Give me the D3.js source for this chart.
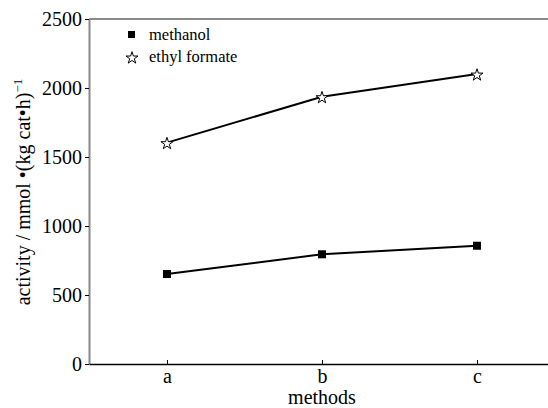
<!DOCTYPE html>
<html>
<head>
<meta charset="utf-8">
<script src="https://cdn.jsdelivr.net/npm/d3@7"></script>
<style>
  body { margin: 0; background: #fff; }
  svg text { font-family: "Liberation Serif", "Times New Roman", serif; fill: #000; }
</style>
</head>
<body>
<div id="chart"></div>
<script>
var methods = ["a", "b", "c"];
var methanol = [652, 795, 857];
var ethylFormate = [1604, 1937, 2101];
var yTicks = [0, 500, 1000, 1500, 2000, 2500];

var serif = "Liberation Serif";
var width = 548, height = 408;
var svg = d3.select("#chart").append("svg")
  .attr("width", width)
  .attr("height", height)
  .attr("font-family", serif);

var x = d3.scaleLinear().domain([-0.503, 2.458]).range([89, 548]);
var y = d3.scaleLinear().domain([0, 2500]).range([364, 19]);

// top frame line
svg.append("line")
  .attr("x1", 89).attr("x2", 548)
  .attr("y1", y(2500)).attr("y2", y(2500))
  .attr("stroke", "#666").attr("stroke-width", 1.5);

// y axis
var yAxis = svg.append("g")
  .attr("transform", "translate(89,0)")
  .call(d3.axisLeft(y).tickValues(yTicks).tickSize(4).tickPadding(3).tickSizeOuter(0).tickFormat(d3.format("d")))
  .attr("font-family", serif).attr("font-size", 20);
yAxis.select(".domain").attr("stroke", "#888").attr("stroke-width", 2);
yAxis.selectAll(".tick line").attr("stroke", "#000");
yAxis.selectAll(".tick text").style("font-family", serif);

// x axis
var xAxis = svg.append("g")
  .attr("transform", "translate(0,364)")
  .call(d3.axisTop(x).tickValues([0, 1, 2]).tickSize(4).tickSizeOuter(0).tickFormat(function (d) { return methods[d]; }))
  .attr("font-family", serif).attr("font-size", 20);
xAxis.select(".domain").attr("stroke", "#000").attr("stroke-width", 1.5);
xAxis.selectAll(".tick text")
  .attr("y", 19).attr("dy", 0)
  .style("font-family", serif);

svg.append("text")
  .attr("x", 322).attr("y", 404)
  .attr("text-anchor", "middle")
  .style("font-family", serif)
  .style("font-size", "20px")
  .text("methods");

var yl = svg.append("text")
  .attr("transform", "translate(30,192) rotate(-90)")
  .attr("text-anchor", "middle")
  .style("font-family", serif)
  .style("font-size", "20px");
yl.append("tspan").text("activity / mmol \u2022(kg cat\u2022h)");
yl.append("tspan").attr("dy", -8).style("font-size", "13px").text("\u22121");

var line = d3.line()
  .x(function (d, i) { return x(i); })
  .y(function (d) { return y(d); });

svg.append("path").datum(ethylFormate)
  .attr("d", line).attr("fill", "none")
  .attr("stroke", "#000").attr("stroke-width", 2);
svg.append("path").datum(methanol)
  .attr("d", line).attr("fill", "none")
  .attr("stroke", "#000").attr("stroke-width", 2);

var star = d3.symbol().type(d3.symbolStar).size(45);
svg.selectAll(".sq").data(methanol).enter().append("rect")
  .attr("x", function (d, i) { return x(i) - 4; })
  .attr("y", function (d) { return y(d) - 4; })
  .attr("width", 8).attr("height", 8)
  .attr("fill", "#000");
svg.selectAll(".st").data(ethylFormate).enter().append("path")
  .attr("d", star)
  .attr("transform", function (d, i) { return "translate(" + x(i) + "," + (y(d) + 1) + ")"; })
  .attr("fill", "#fff").attr("stroke", "#000").attr("stroke-width", 1);

// legend
var legend = svg.append("g");
legend.append("rect").attr("x", 128).attr("y", 31).attr("width", 7).attr("height", 7).attr("fill", "#000");
legend.append("text").attr("x", 149).attr("y", 40)
  .style("font-family", serif).style("font-size", "16.5px").text("methanol");
legend.append("path").attr("d", star).attr("transform", "translate(132,58)")
  .attr("fill", "#fff").attr("stroke", "#000").attr("stroke-width", 1);
legend.append("text").attr("x", 149).attr("y", 62)
  .style("font-family", serif).style("font-size", "16.5px").text("ethyl formate");
</script>
</body>
</html>
